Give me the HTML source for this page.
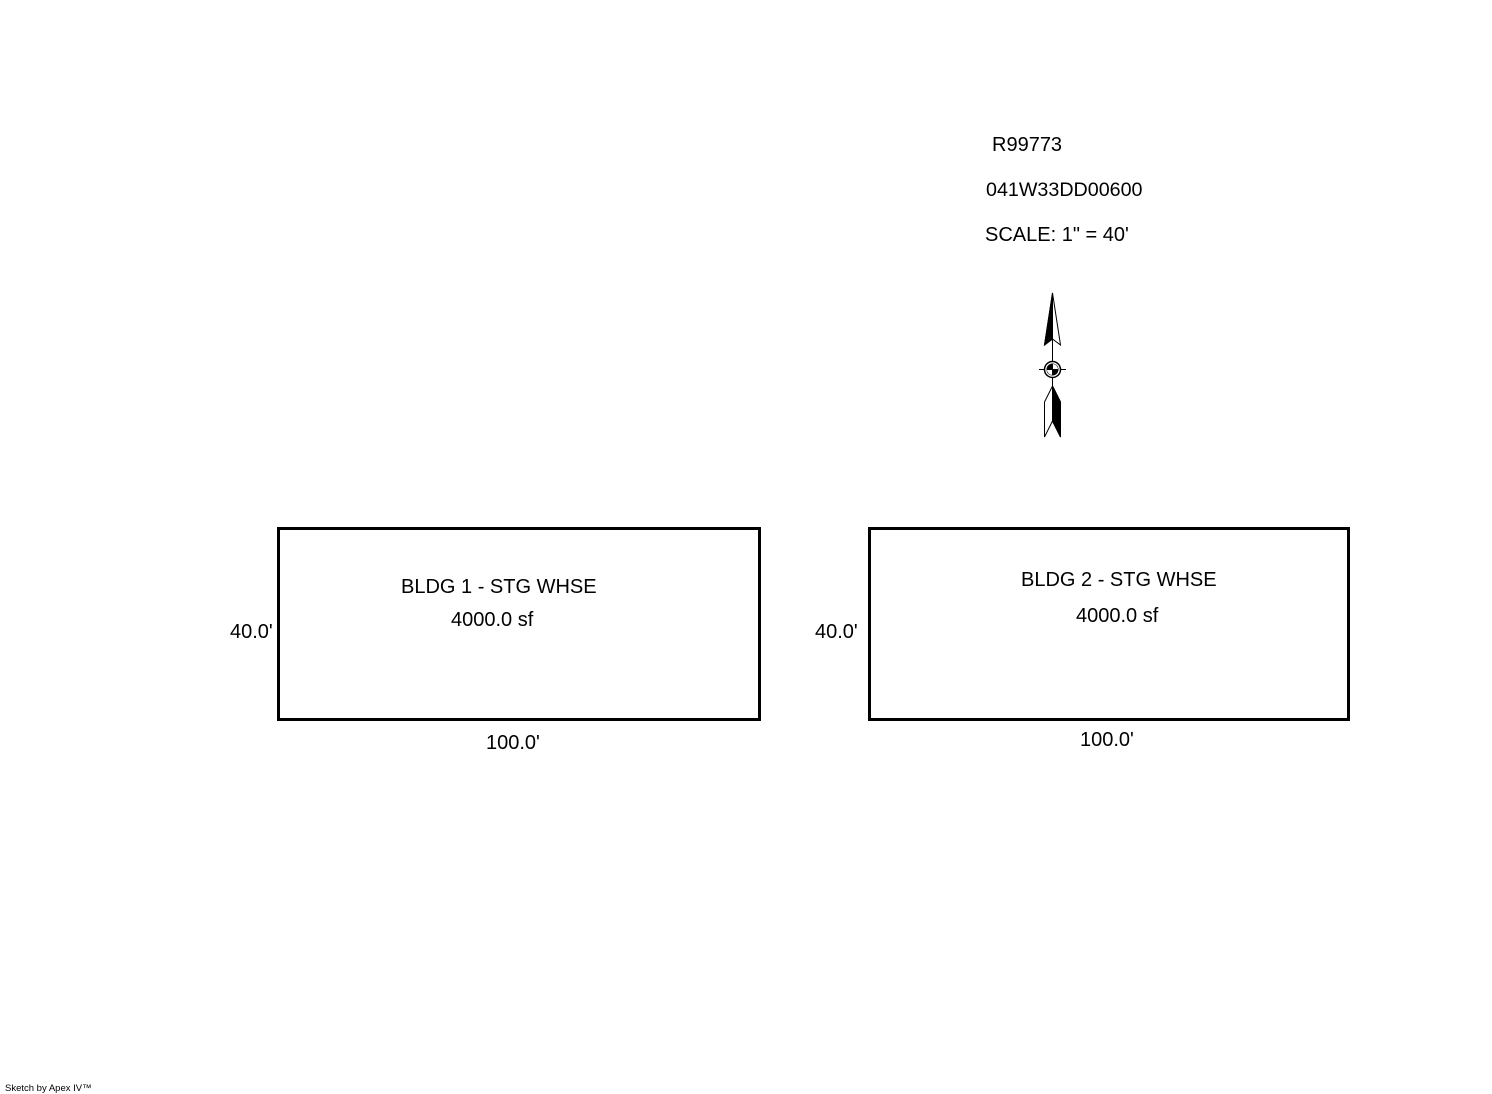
<!DOCTYPE html>
<html>
<head>
<meta charset="utf-8">
<style>
  html, body { margin: 0; padding: 0; background: #fff; }
  svg { display: block; }
  text { font-family: "Liberation Sans", Arial, sans-serif; fill: #000; }
</style>
</head>
<body>
<svg width="1492" height="1094" viewBox="0 0 1492 1094" xmlns="http://www.w3.org/2000/svg">
  <rect x="0" y="0" width="1492" height="1094" fill="#fff"/>

  <!-- Header text -->
  <text x="992" y="151" font-size="20">R99773</text>
  <text x="986" y="196" font-size="19.7">041W33DD00600</text>
  <text x="985" y="241" font-size="20">SCALE: 1" = 40'</text>

  <!-- North arrow -->
  <g stroke="#000" stroke-width="1" fill="none">
    <line x1="1052.5" y1="293" x2="1052.5" y2="387"/>
    <line x1="1039" y1="369.5" x2="1066" y2="369.5"/>
    <!-- upper arrowhead -->
    <polygon points="1052.5,293 1044.5,345 1052.5,339 1060.5,345" fill="#fff"/>
    <polygon points="1052.5,293 1044.5,345 1052.5,339" fill="#000"/>
    <!-- lower fletching -->
    <polygon points="1052.5,386 1060.5,402 1060.5,437 1052.5,421 1044.5,437 1044.5,402" fill="#fff"/>
    <polygon points="1052.5,386 1060.5,402 1060.5,437 1052.5,421" fill="#000"/>
    <!-- compass circle -->
    <circle cx="1052.5" cy="369.5" r="8" fill="#fff" stroke-width="1.5"/>
    <circle cx="1052.5" cy="369.5" r="5.5" fill="#000"/>
  </g>
  <path d="M1052.5,369.5 L1052.5,364 A5.5,5.5 0 0 1 1058,369.5 Z" fill="#fff"/>
  <path d="M1052.5,369.5 L1052.5,375 A5.5,5.5 0 0 1 1047,369.5 Z" fill="#fff"/>
  <line x1="1047" y1="369.5" x2="1058" y2="369.5" stroke="#000" stroke-width="1"/>
  <line x1="1052.5" y1="364" x2="1052.5" y2="375" stroke="#000" stroke-width="1"/>

  <!-- Building 1 -->
  <rect x="278.5" y="528.5" width="481" height="191" fill="none" stroke="#000" stroke-width="3"/>
  <text x="401" y="593" font-size="20">BLDG 1 - STG WHSE</text>
  <text x="451" y="626" font-size="20">4000.0 sf</text>
  <text x="230" y="638" font-size="20">40.0'</text>
  <text x="486" y="749" font-size="20">100.0'</text>

  <!-- Building 2 -->
  <rect x="869.5" y="528.5" width="479" height="191" fill="none" stroke="#000" stroke-width="3"/>
  <text x="1021" y="586" font-size="20">BLDG 2 - STG WHSE</text>
  <text x="1076" y="622" font-size="20">4000.0 sf</text>
  <text x="815" y="638" font-size="20">40.0'</text>
  <text x="1080" y="746" font-size="20">100.0'</text>

  <!-- Footer -->
  <text x="5" y="1091" font-size="9.5">Sketch by Apex IV™</text>
</svg>
</body>
</html>
